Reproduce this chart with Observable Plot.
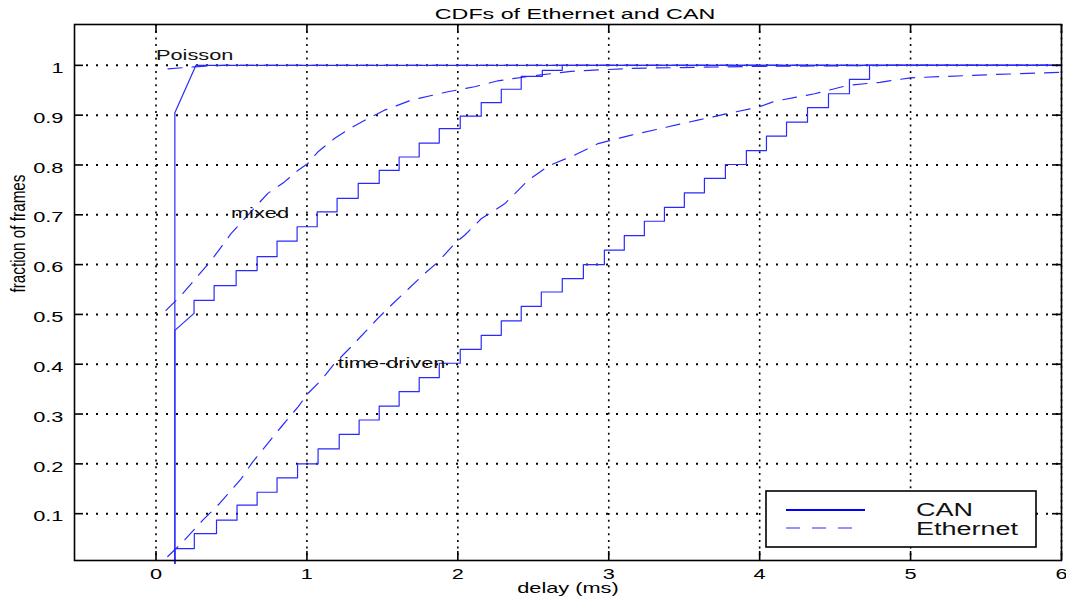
<!DOCTYPE html>
<html><head><meta charset="utf-8">
<script src="https://cdn.jsdelivr.net/npm/d3@7"></script>
<script src="https://cdn.jsdelivr.net/npm/@observablehq/plot@0.6"></script>
<style>html,body{margin:0;padding:0;background:#fff;} #chart{position:relative;width:1066px;height:607px;}</style>
</head><body><div id="chart"></div>
<script>
// ---- data ----
const xTicks = [0, 1, 2, 3, 4, 5, 6];
const yTicks = [0.1, 0.2, 0.3, 0.4, 0.5, 0.6, 0.7, 0.8, 0.9, 1];
const xDomain = [-0.54, 6];
const yDomain = [0.006, 1.082];

const titleText = "CDFs of Ethernet and CAN";
const xLabel = "delay (ms)";
const yLabel = "fraction of frames";
const seriesNames = ["CAN", "Ethernet"];
const annotations = ["Poisson", "mixed", "time-driven"];
const annotX = [0.0, 0.497, 1.205];
const annotY = [1.02, 0.702, 0.402];

// CAN, Poisson traffic
const canPoissonX = [0.125, 0.125, 0.265, 6];
const canPoissonY = [0.0, 0.905, 1.0, 1.0];
// Ethernet, Poisson traffic
const ethPoissonX = [0.08, 0.25, 0.45, 6];
const ethPoissonY = [0.993, 0.997, 1.0, 1.0];

// CAN, mixed traffic (head then steps)
const canMixedHeadX = [0.125, 0.125, 0.252];
const canMixedHeadY = [0.0, 0.468, 0.502];
const canMixedStepX = [0.252, 0.385, 0.531, 0.670, 0.802, 0.935, 1.068, 1.200, 1.340, 1.479, 1.611, 1.744, 1.877, 2.016, 2.155, 2.288, 2.420, 2.560, 2.692];
const canMixedStepY = [0.528, 0.558, 0.588, 0.616, 0.647, 0.676, 0.706, 0.733, 0.763, 0.789, 0.816, 0.844, 0.873, 0.898, 0.925, 0.952, 0.978, 0.990, 1.0];

// Ethernet, mixed traffic
const ethMixedX = [0.066, 0.166, 0.365, 0.497, 0.608, 0.741, 0.851, 0.94, 1.006, 1.072, 1.182, 1.282, 1.404, 1.514, 1.691, 1.934, 2.111, 2.266, 2.5, 2.75, 3.15, 4.0, 5.0, 6.0];
const ethMixedY = [0.508, 0.538, 0.608, 0.662, 0.699, 0.743, 0.766, 0.789, 0.803, 0.826, 0.853, 0.873, 0.893, 0.91, 0.93, 0.947, 0.957, 0.969, 0.979, 0.988, 0.994, 0.998, 1.0, 1.0];

// CAN, time-driven traffic (head then steps)
const canTimeHeadX = [0.125, 0.125];
const canTimeHeadY = [0.0, 0.03];
const canTimeStepX = [0.254, 0.401, 0.537, 0.670, 0.802, 0.938, 1.074, 1.214, 1.346, 1.479, 1.611, 1.744, 1.877, 2.016, 2.155, 2.288, 2.420, 2.553, 2.692, 2.832, 2.971, 3.103, 3.236, 3.369, 3.501, 3.634, 3.773, 3.912, 4.045, 4.178, 4.317, 4.456, 4.595, 4.728];
const canTimeStepY = [0.06, 0.087, 0.117, 0.143, 0.172, 0.2, 0.23, 0.259, 0.288, 0.316, 0.345, 0.373, 0.402, 0.43, 0.458, 0.487, 0.516, 0.545, 0.572, 0.6, 0.629, 0.658, 0.687, 0.715, 0.744, 0.773, 0.801, 0.829, 0.858, 0.886, 0.915, 0.943, 0.972, 1.0];

// Ethernet, time-driven traffic
const ethTimeX = [0.078, 0.177, 0.31, 0.42, 0.564, 0.641, 0.829, 0.94, 1.006, 1.094, 1.182, 1.28, 1.47, 1.536, 1.78, 1.868, 1.978, 2.045, 2.155, 2.31, 2.465, 2.6, 2.775, 2.93, 3.15, 3.37, 3.59, 3.77, 3.99, 4.1, 4.365, 4.587, 4.797, 5.0, 5.5, 6.0];
const ethTimeY = [0.014, 0.043, 0.087, 0.12, 0.17, 0.204, 0.274, 0.314, 0.341, 0.368, 0.401, 0.431, 0.492, 0.512, 0.582, 0.605, 0.642, 0.659, 0.692, 0.722, 0.769, 0.798, 0.82, 0.843, 0.86, 0.875, 0.89, 0.902, 0.916, 0.928, 0.943, 0.96, 0.966, 0.975, 0.981, 0.986];

// ---- build tables ----
const pts = (xs, ys) => xs.map((x, i) => ({x, y: ys[i]}));
function stairs(hx, hy, sx, sy, endX) {
  const out = pts(hx, hy);
  let prev = out[out.length - 1].y;
  sx.forEach((x, i) => { out.push({x, y: prev}); out.push({x, y: sy[i]}); prev = sy[i]; });
  out.push({x: endX, y: prev});
  return out;
}
const canPoisson = pts(canPoissonX, canPoissonY);
const ethPoisson = pts(ethPoissonX, ethPoissonY);
const canMixed = stairs(canMixedHeadX, canMixedHeadY, canMixedStepX, canMixedStepY, xDomain[1]);
const ethMixed = pts(ethMixedX, ethMixedY);
const canTime = stairs(canTimeHeadX, canTimeHeadY, canTimeStepX, canTimeStepY, xDomain[1]);
const ethTime = pts(ethTimeX, ethTimeY);
const annot = annotations.map((t, i) => ({t, x: annotX[i], y: annotY[i]}));

const W = 1066, Hh = 607, mL = 74, mR = 5, mT = 24, mB = 47;
const PW = W - mL - mR, PH = Hh - mT - mB;
const TL = 9;
const blue = "#2a2aff";
const dash = "14,10";
const lineOpts = {x: "x", y: "y", stroke: blue, strokeWidth: 1.2};

const svg = Plot.plot({
  width: W, height: Hh,
  marginLeft: mL, marginRight: mR, marginTop: mT, marginBottom: mB,
  style: {fontFamily: "'Liberation Sans', Arial, Helvetica, sans-serif", fontSize: "14.5px", background: "white", color: "black"},
  x: {domain: xDomain},
  y: {domain: yDomain},
  marks: [
    Plot.ruleY(yTicks, {y: d => d, stroke: "black", strokeWidth: 2, strokeDasharray: "2,8", insetLeft: 12}),
    Plot.ruleX(xTicks, {x: d => d, stroke: "black", strokeWidth: 1.6, strokeDasharray: "2,4.7"}),
    Plot.line(canPoisson, lineOpts),
    Plot.line(ethPoisson, {...lineOpts, strokeDasharray: dash}),
    Plot.line(canMixed, lineOpts),
    Plot.line(ethMixed, {...lineOpts, strokeDasharray: dash}),
    Plot.line(canTime, lineOpts),
    Plot.line(ethTime, {...lineOpts, strokeDasharray: dash}),
    Plot.frame({stroke: "black", strokeWidth: 1.6}),
    Plot.ruleX(xTicks, {x: d => d, insetTop: PH - TL, stroke: "black", strokeWidth: 1.6}),
    Plot.ruleX(xTicks, {x: d => d, insetBottom: PH - TL, stroke: "black", strokeWidth: 1.6}),
    Plot.ruleY(yTicks, {y: d => d, insetRight: PW - TL, stroke: "black", strokeWidth: 1.6}),
    Plot.ruleY(yTicks, {y: d => d, insetLeft: PW - TL, stroke: "black", strokeWidth: 1.6}),
    Plot.axisX({ticks: xTicks, tickSize: 0, tickPadding: 8, label: null, fontSize: 14.5, tickFormat: d => String(d)}),
    Plot.axisY({ticks: yTicks, tickSize: 0, tickPadding: 11, label: null, fontSize: 14.5, dy: 3, tickFormat: d => String(d)}),
    Plot.text(annot, {x: "x", y: "y", text: "t", textAnchor: "start", fontSize: 14.5, fill: "#111"}),
    Plot.text([titleText], {frameAnchor: "top", dy: -17, dx: 7, fontSize: 15.5}),
    Plot.text([xLabel], {frameAnchor: "bottom", dy: 32, fontSize: 14.5}),
    Plot.text([yLabel], {frameAnchor: "left", dx: -56, rotate: -90, fontSize: 20.5})
  ]
});
document.getElementById("chart").appendChild(svg);

// legend
const g = d3.select(svg).append("g").attr("class", "legend").attr("text-anchor", "start");
g.append("rect").attr("x", 766).attr("y", 491).attr("width", 270).attr("height", 56)
  .attr("fill", "white").attr("stroke", "black").attr("stroke-width", 1.6);
g.append("line").attr("x1", 786).attr("x2", 865).attr("y1", 510).attr("y2", 510)
  .attr("stroke", "#0000ff").attr("stroke-width", 2);
g.append("line").attr("x1", 786).attr("x2", 858).attr("y1", 528).attr("y2", 528)
  .attr("stroke", blue).attr("stroke-width", 1.2).attr("stroke-dasharray", "14,12");
g.append("text").attr("x", 916).attr("y", 516).attr("font-size", 18).attr("fill", "#111")
  .attr("text-anchor", "start").text(seriesNames[0]);
g.append("text").attr("x", 916).attr("y", 534.5).attr("font-size", 18).attr("fill", "#111")
  .attr("text-anchor", "start").text(seriesNames[1]);

// emulate the horizontally stretched glyphs of the reference
svg.querySelectorAll("text").forEach(t => {
  const len = t.getComputedTextLength();
  if (!len) return;
  const f = t.textContent === yLabel ? 0.745 : 1.5;
  t.setAttribute("textLength", (len * f).toFixed(1));
  t.setAttribute("lengthAdjust", "spacingAndGlyphs");
});
</script>
</body></html>
